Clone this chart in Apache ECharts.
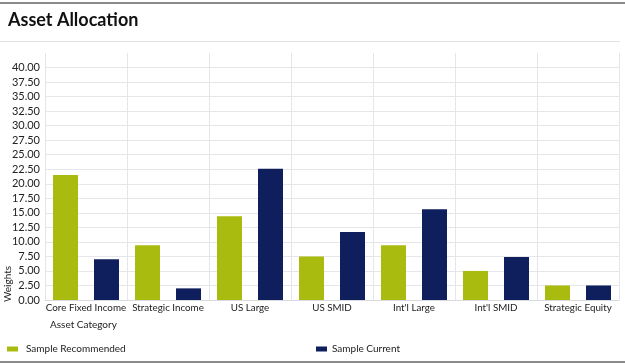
<!DOCTYPE html>
<html>
<head>
<meta charset="utf-8">
<script src="https://cdn.jsdelivr.net/npm/echarts@6/dist/echarts.min.js"></script>
<style>
html,body{margin:0;padding:0;background:#fff;}
#c{width:625px;height:364px;}
</style>
</head>
<body>
<div id="c"></div>
<script>
const categories = ['Core Fixed Income','Strategic Income','US Large','US SMID',"Int'l Large","Int'l SMID",'Strategic Equity'];
const recommended = [21.5, 9.4, 14.4, 7.5, 9.4, 5.0, 2.5];
const current = [7.0, 2.0, 22.6, 11.7, 15.6, 7.4, 2.5];
const seriesNames = ['Sample Recommended','Sample Current'];

const FONT = 'Lato';
const chart = echarts.init(document.getElementById('c'));
const gridColors = [];
for (let i = 0; i < 17; i++) gridColors.push('#e4e6ea');
gridColors.push('rgba(0,0,0,0)');

chart.setOption({
  animation: false,
  textStyle: {fontFamily: FONT},
  title: {
    text: 'Asset Allocation', left: 3, top: 6,
    textStyle: {fontFamily: FONT, fontSize: 18, fontWeight: 'bold', color: '#111'}
  },
  graphic: [
    {type: 'rect', shape: {x: 0, y: 2, width: 625, height: 2}, style: {fill: '#8a8a8a'}},
    {type: 'rect', shape: {x: 0, y: 41, width: 620, height: 1}, style: {fill: '#e2e2e2'}},
    {type: 'rect', shape: {x: 0, y: 361, width: 625, height: 2}, style: {fill: '#8a8a8a'}},
    {type: 'text', left: 50, top: 320, style: {text: 'Asset Category', font: '10px ' + FONT, fill: '#222'}},
    {type: 'text', x: 3, y: 302, rotation: Math.PI / 2, style: {text: 'Weights', font: '10px ' + FONT, fill: '#222'}}
  ],
  legend: [
    {data: [seriesNames[0]], left: 2, top: 339, icon: 'rect', itemWidth: 11, itemHeight: 5,
     itemGap: 0, textStyle: {fontFamily: FONT, fontSize: 10, color: '#222', padding: [0,0,0,3]}},
    {data: [seriesNames[1]], left: 311, top: 339, icon: 'rect', itemWidth: 11, itemHeight: 5,
     itemGap: 0, textStyle: {fontFamily: FONT, fontSize: 10, color: '#222', padding: [0,0,0,0]}}
  ],
  grid: {left: 45, right: 6, top: 53, bottom: 64},
  xAxis: {
    type: 'category', data: categories,
    axisLine: {show: true, lineStyle: {color: '#d8dbe0'}},
    axisTick: {show: false},
    splitLine: {show: true, lineStyle: {color: '#e4e6ea'}},
    axisLabel: {fontFamily: FONT, fontSize: 9.8, color: '#222', margin: 3, interval: 0}
  },
  yAxis: {
    type: 'value', min: 0, max: 42.5, interval: 2.5,
    axisLine: {show: false}, axisTick: {show: false},
    splitLine: {show: true, lineStyle: {color: gridColors}},
    axisLabel: {fontFamily: FONT, fontSize: 11, color: '#222', margin: 5, showMaxLabel: false,
      formatter: v => v.toFixed(2)}
  },
  series: [
    {name: seriesNames[0], type: 'bar', data: recommended, barWidth: 25, barGap: '64%',
     itemStyle: {color: '#a9bb0e'}},
    {name: seriesNames[1], type: 'bar', data: current, barWidth: 25,
     itemStyle: {color: '#0f1f5e'}}
  ]
});
</script>
</body>
</html>
